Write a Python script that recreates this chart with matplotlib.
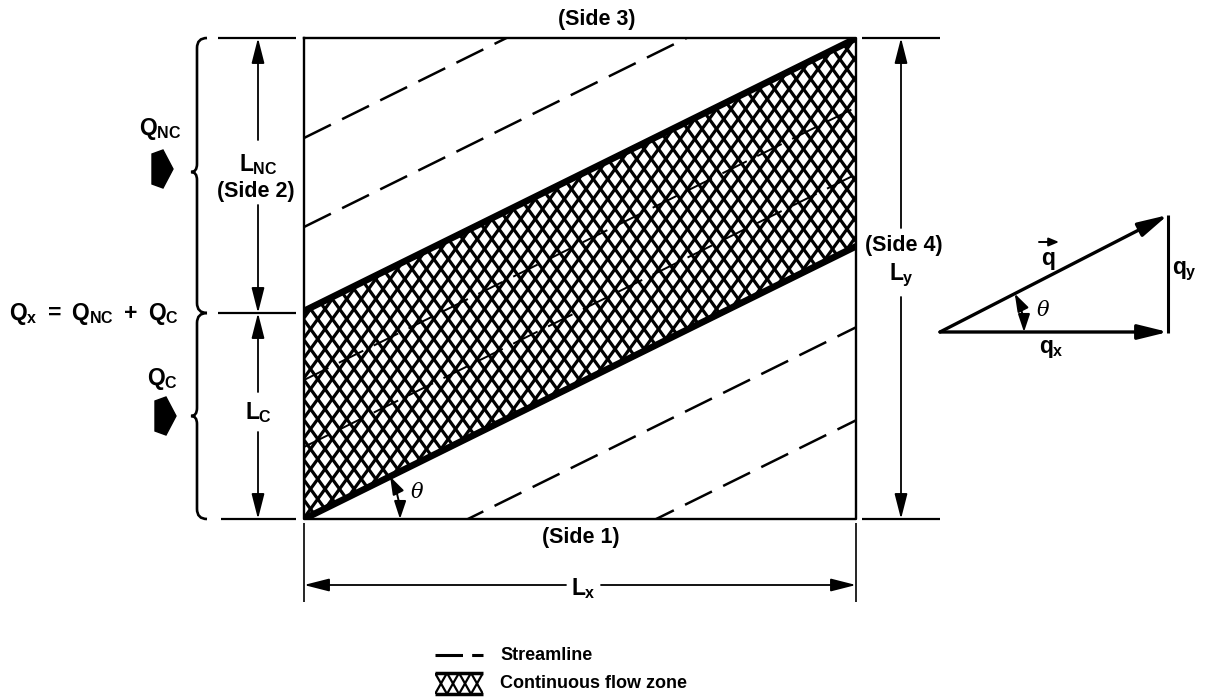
import numpy as np
import matplotlib.pyplot as plt
from matplotlib.patches import Polygon, Rectangle, FancyArrowPatch, PathPatch
from matplotlib.path import Path

plt.rcParams['font.family'] = ['Liberation Sans', 'DejaVu Sans']
plt.rcParams['font.weight'] = 'bold'
plt.rcParams['mathtext.fontset'] = 'custom'
plt.rcParams['mathtext.rm'] = 'Liberation Sans:bold'
plt.rcParams['mathtext.it'] = 'Liberation Sans:bold'
plt.rcParams['mathtext.bf'] = 'Liberation Sans:bold'
plt.rcParams['mathtext.sf'] = 'Liberation Sans:bold'

# geometry of the flow box (sheet pixels, y grows downward)
box_x = [304, 856]          # side 2 / side 4
box_y = [38, 519]           # side 3 / side 1
tan_theta = 0.494
band_y0 = [311, 519]        # band edges, where they meet side 2
streamline_y0 = [138, 227, 380, 447, 600, 693]
split_y = 313               # L_NC / L_C split on side 2

# velocity triangle
q_origin = (940, 332)
q_comp = [228, 117]         # q_x, q_y

legend_labels = ['Streamline', 'Continuous flow zone']

fig = plt.figure(figsize=(12.07, 6.99), dpi=100)
ax = fig.add_axes([0, 0, 1, 1])
ax.set_xlim(0, 1207)
ax.set_ylim(699, 0)
ax.axis('off')

FS = 15.5     # label size
FSM = 16.5    # symbol size (with subscripts)


def line_y(y0, x):
    return y0 - tan_theta * (x - box_x[0])


def crosshatch(clip, x0, x1, y0, y1, w=14.5, h=20, lw=2.3):
    dx = (y1 - y0) * w / h
    for c in np.arange(x0 - dx - w, x1 + dx + w, w):
        for s in (1, -1):
            ln, = ax.plot([c, c + s * dx], [y1, y0], color='k', lw=lw,
                          solid_capstyle='butt')
            ln.set_clip_path(clip)


def arrow(p_from, p_to, lw=1.3, hl=1.1, hw=0.28, ms=14):
    ax.annotate('', xy=p_to, xytext=p_from,
                arrowprops=dict(arrowstyle=f'-|>,head_length={hl},head_width={hw}',
                                mutation_scale=ms, lw=lw, color='k',
                                shrinkA=0, shrinkB=0))


def hline(y, x0, x1, lw=1.6):
    ax.plot([x0, x1], [y, y], color='k', lw=lw, solid_capstyle='butt')


def vline(x, y0, y1, lw=1.6):
    ax.plot([x, x], [y0, y1], color='k', lw=lw, solid_capstyle='butt')


# continuous flow zone (hatched band)
xs = np.array(box_x)
band = Polygon([(xs[0], line_y(band_y0[0], xs[0])), (xs[1], line_y(band_y0[0], xs[1])),
                (xs[1], line_y(band_y0[1], xs[1])), (xs[0], line_y(band_y0[1], xs[0]))],
               closed=True, facecolor='white', edgecolor='none')
ax.add_patch(band)
crosshatch(band, box_x[0], box_x[1], box_y[0], box_y[1])

# streamlines
box_clip = Rectangle((box_x[0], box_y[0]), box_x[1] - box_x[0], box_y[1] - box_y[0],
                     transform=ax.transData, facecolor='none', edgecolor='none')
ax.add_patch(box_clip)
for y0 in streamline_y0:
    inside = band_y0[0] < y0 < band_y0[1]
    ln, = ax.plot(xs, line_y(y0, xs), color='k', lw=1.4 if inside else 1.8,
                  dashes=(12, 5) if not inside else (14, 6))
    ln.set_clip_path(box_clip)

# band edges
for y0 in band_y0:
    ln, = ax.plot(xs, line_y(y0, xs), color='k', lw=4.8, solid_capstyle='round')
    ln.set_clip_path(box_clip)

# box
ax.plot([box_x[0], box_x[1], box_x[1], box_x[0], box_x[0]],
        [box_y[0], box_y[0], box_y[1], box_y[1], box_y[0]], color='k', lw=1.7)

# side labels
ax.text(597, 20, '(Side 3)', ha='center', va='center', fontsize=FS)
ax.text(581, 538, '(Side 1)', ha='center', va='center', fontsize=FS)
ax.text(904, 245, '(Side 4)', ha='center', va='center', fontsize=FS)

# left dimensions
for y in (box_y[0], split_y):
    hline(y, 218, 296)
hline(box_y[1], 221, 296)
xd = 258
arrow((xd, 140), (xd, box_y[0]))
arrow((xd, 205), (xd, split_y))
arrow((xd, 392), (xd, split_y))
arrow((xd, 432), (xd, box_y[1]))
ax.text(xd, 165, r'$L_{NC}$', ha='center', va='center', fontsize=FSM)
ax.text(xd - 2, 191, '(Side 2)', ha='center', va='center', fontsize=FS)
ax.text(xd + 1, 413, r'$L_{C}$', ha='center', va='center', fontsize=FSM)

# right dimension
for y in box_y:
    hline(y, 862, 940)
xr = 901
arrow((xr, 228), (xr, box_y[0]))
arrow((xr, 297), (xr, box_y[1]))
ax.text(xr, 275, r'$L_{y}$', ha='center', va='center', fontsize=FSM)

# bottom dimension
for x in box_x:
    vline(x, 523, 602, lw=1.2)
arrow((566, 585), (box_x[0], 585))
arrow((601, 585), (box_x[1], 585))
ax.text(583, 589, r'$L_{x}$', ha='center', va='center', fontsize=FSM)


# braces
def brace(x, y0, y1, ym, curl=10, tip=6):
    verts = [(x + curl, y0), (x, y0), (x, y0 + curl),
             (x, ym - 8), (x, ym), (x - tip, ym),
             (x, ym), (x, ym + 8),
             (x, y1 - curl), (x, y1), (x + curl, y1)]
    codes = [Path.MOVETO, Path.CURVE3, Path.CURVE3,
             Path.LINETO, Path.CURVE3, Path.CURVE3,
             Path.CURVE3, Path.CURVE3,
             Path.LINETO, Path.CURVE3, Path.CURVE3]
    ax.add_patch(PathPatch(Path(verts, codes), facecolor='none', edgecolor='k', lw=1.9))


brace(197, box_y[0], split_y, 172)
brace(197, split_y, box_y[1], 416)

# inflow labels and block arrows
ax.text(160, 129, r'$Q_{NC}$', ha='center', va='center', fontsize=FSM)
ax.text(162, 379, r'$Q_{C}$', ha='center', va='center', fontsize=FSM)
ax.text(94, 314, r'$Q_x\ =\ Q_{NC}\ +\ Q_C$', ha='center', va='center', fontsize=FSM)
for (bx, by) in [(152, 150), (155, 397)]:
    ax.add_patch(Polygon([(bx, by + 4), (bx + 11, by), (bx + 21, by + 19),
                          (bx + 11, by + 38), (bx, by + 34)],
                         closed=True, facecolor='k', edgecolor='k', lw=1))

# angle theta in box
r = 96
th = np.arctan(tan_theta)
ax.add_patch(FancyArrowPatch((box_x[0] + r, box_y[1]),
                             (box_x[0] + r * np.cos(th), box_y[1] - r * np.sin(th)),
                             connectionstyle='arc3,rad=0.12',
                             arrowstyle='<|-|>,head_length=0.9,head_width=0.3',
                             mutation_scale=12, lw=1.4, color='k', shrinkA=0, shrinkB=0))
ax.text(417, 493, 'θ', ha='center', va='center', fontsize=15,
        family='DejaVu Serif', style='italic', weight='normal')

# velocity triangle
ox, oy = q_origin
qx, qy = q_comp
arrow((ox, oy), (ox + qx, oy), lw=2.4, hl=1.3, hw=0.32, ms=14)
arrow((ox, oy), (ox + qx, oy - qy), lw=2.4, hl=1.3, hw=0.32, ms=14)
vline(ox + qx, oy + 1, oy - qy, lw=2.2)
rt = 84
ta = np.arctan2(qy, qx)
ax.add_patch(FancyArrowPatch((ox + rt, oy), (ox + rt * np.cos(ta), oy - rt * np.sin(ta)),
                             connectionstyle='arc3,rad=0.12',
                             arrowstyle='<|-|>,head_length=0.9,head_width=0.3',
                             mutation_scale=12, lw=1.4, color='k', shrinkA=0, shrinkB=0))
ax.text(1043, 310, 'θ', ha='center', va='center', fontsize=15,
        family='DejaVu Serif', style='italic', weight='normal')
ax.text(1048, 259, 'q', ha='center', va='center', fontsize=FSM)
arrow((1039, 242), (1059, 242), lw=1.4, hl=0.6, hw=0.25, ms=10)
ax.text(1172, 271, r'$q_y$', ha='left', va='center', fontsize=FSM)
ax.text(1051, 349, r'$q_x$', ha='center', va='center', fontsize=FSM)

# legend
ax.plot([435, 483], [655, 655], color='k', lw=2.2, dashes=(9, 3))
ax.text(500, 655, legend_labels[0], ha='left', va='center', fontsize=13)
leg_rect = Rectangle((435, 673), 48, 21, facecolor='white', edgecolor='none')
ax.add_patch(leg_rect)
crosshatch(leg_rect, 435, 483, 673, 694, w=12, h=21, lw=1.6)
hline(673, 435, 483, lw=2.5)
hline(694, 435, 483, lw=2.5)
ax.text(500, 683, legend_labels[1], ha='left', va='center', fontsize=13)

fig.savefig('out.png', dpi=100, facecolor='white')
